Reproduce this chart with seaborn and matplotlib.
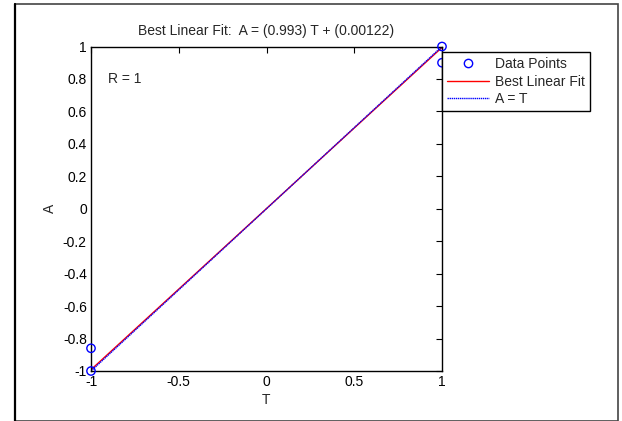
import numpy as np
import pandas as pd
import matplotlib
matplotlib.use("Agg")
import matplotlib.pyplot as plt
import seaborn as sns
from matplotlib.lines import Line2D
from matplotlib.patches import Rectangle

sns.set_style("white")
plt.rcParams['font.family'] = ['Liberation Sans', 'DejaVu Sans']

# data
targets = [-1, -1, 1, 1]
outputs = [-1, -0.86, 1, 0.9]
slope = 0.993
intercept = 0.00122
fit_range = [-1, 1]
x_ticks = [-1, -0.5, 0, 0.5, 1]
y_ticks = [-1, -0.8, -0.6, -0.4, -0.2, 0, 0.2, 0.4, 0.6, 0.8, 1]

FS = 10

fig = plt.figure(figsize=(6.22, 4.21), dpi=100)
ax = fig.add_axes([91/622, 1-371/421, 351/622, 324.5/421])

pts = pd.DataFrame({"T": targets, "A": outputs})
fit = pd.DataFrame({"T": fit_range, "A": [slope*t + intercept for t in fit_range]})
ident = pd.DataFrame({"T": fit_range, "A": fit_range})

sns.scatterplot(data=pts, x="T", y="A", ax=ax, marker="o", s=36,
                facecolors="none", edgecolor="#0000ff", linewidth=1.0, zorder=3,
                clip_on=False)
sns.lineplot(data=fit, x="T", y="A", ax=ax, color="#ff0000", linewidth=1.0, zorder=2)
sns.lineplot(data=ident, x="T", y="A", ax=ax, color="#0000ff", linewidth=1.0,
             linestyle=(0, (1, 0.5)), zorder=2)

ax.set_xlim(-1, 1)
ax.set_ylim(-1, 1)
ax.set_xticks(x_ticks)
ax.set_xticklabels([f"{v:g}" for v in x_ticks])
ax.set_yticks(y_ticks)
ax.set_yticklabels([f"{v:g}" for v in y_ticks])
ax.tick_params(direction="in", length=4, width=0.8, labelsize=FS, top=True, right=True,
               colors="black", pad=3)
for s in ax.spines.values():
    s.set_color("black")
    s.set_linewidth(1.0)
    s.set_visible(True)
ax.set_xlabel("T", fontsize=FS, labelpad=3)
ax.set_ylabel("A", fontsize=FS, labelpad=4)
ax.set_title("Best Linear Fit:  A = (0.993) T + (0.00122)", fontsize=FS, pad=8)
ax.text(-0.905, 0.8, "R = 1", fontsize=FS, va="center", ha="left")

handles = [
    Line2D([], [], marker="o", linestyle="none", markerfacecolor="none",
           markeredgecolor="#0000ff", markersize=6),
    Line2D([], [], color="#ff0000", linewidth=1.0),
    Line2D([], [], color="#0000ff", linewidth=1.0, linestyle=(0, (1, 0.5))),
]
leg = ax.legend(handles, ["Data Points", "Best Linear Fit", "A = T"],
                loc="upper left", bbox_to_anchor=(1.0, 0.982), fontsize=FS,
                frameon=True, fancybox=False, framealpha=1, edgecolor="black",
                borderpad=0.35, labelspacing=0.25, handlelength=3.0,
                handletextpad=0.45, borderaxespad=0)
leg.get_frame().set_linewidth(1.0)
leg.set_zorder(10)

# outer frame
fig.patches.append(Rectangle((14.5/622, 0.5/421), (618-14.5)/622, (417.5-0.5)/421,
                             transform=fig.transFigure, fill=False,
                             edgecolor="#444444", linewidth=1.2))
fig.add_artist(Line2D([15/622, 15/622], [0.5/421, 417.5/421], transform=fig.transFigure,
                      color="black", linewidth=1.6))

fig.savefig("out.png", dpi=100)
